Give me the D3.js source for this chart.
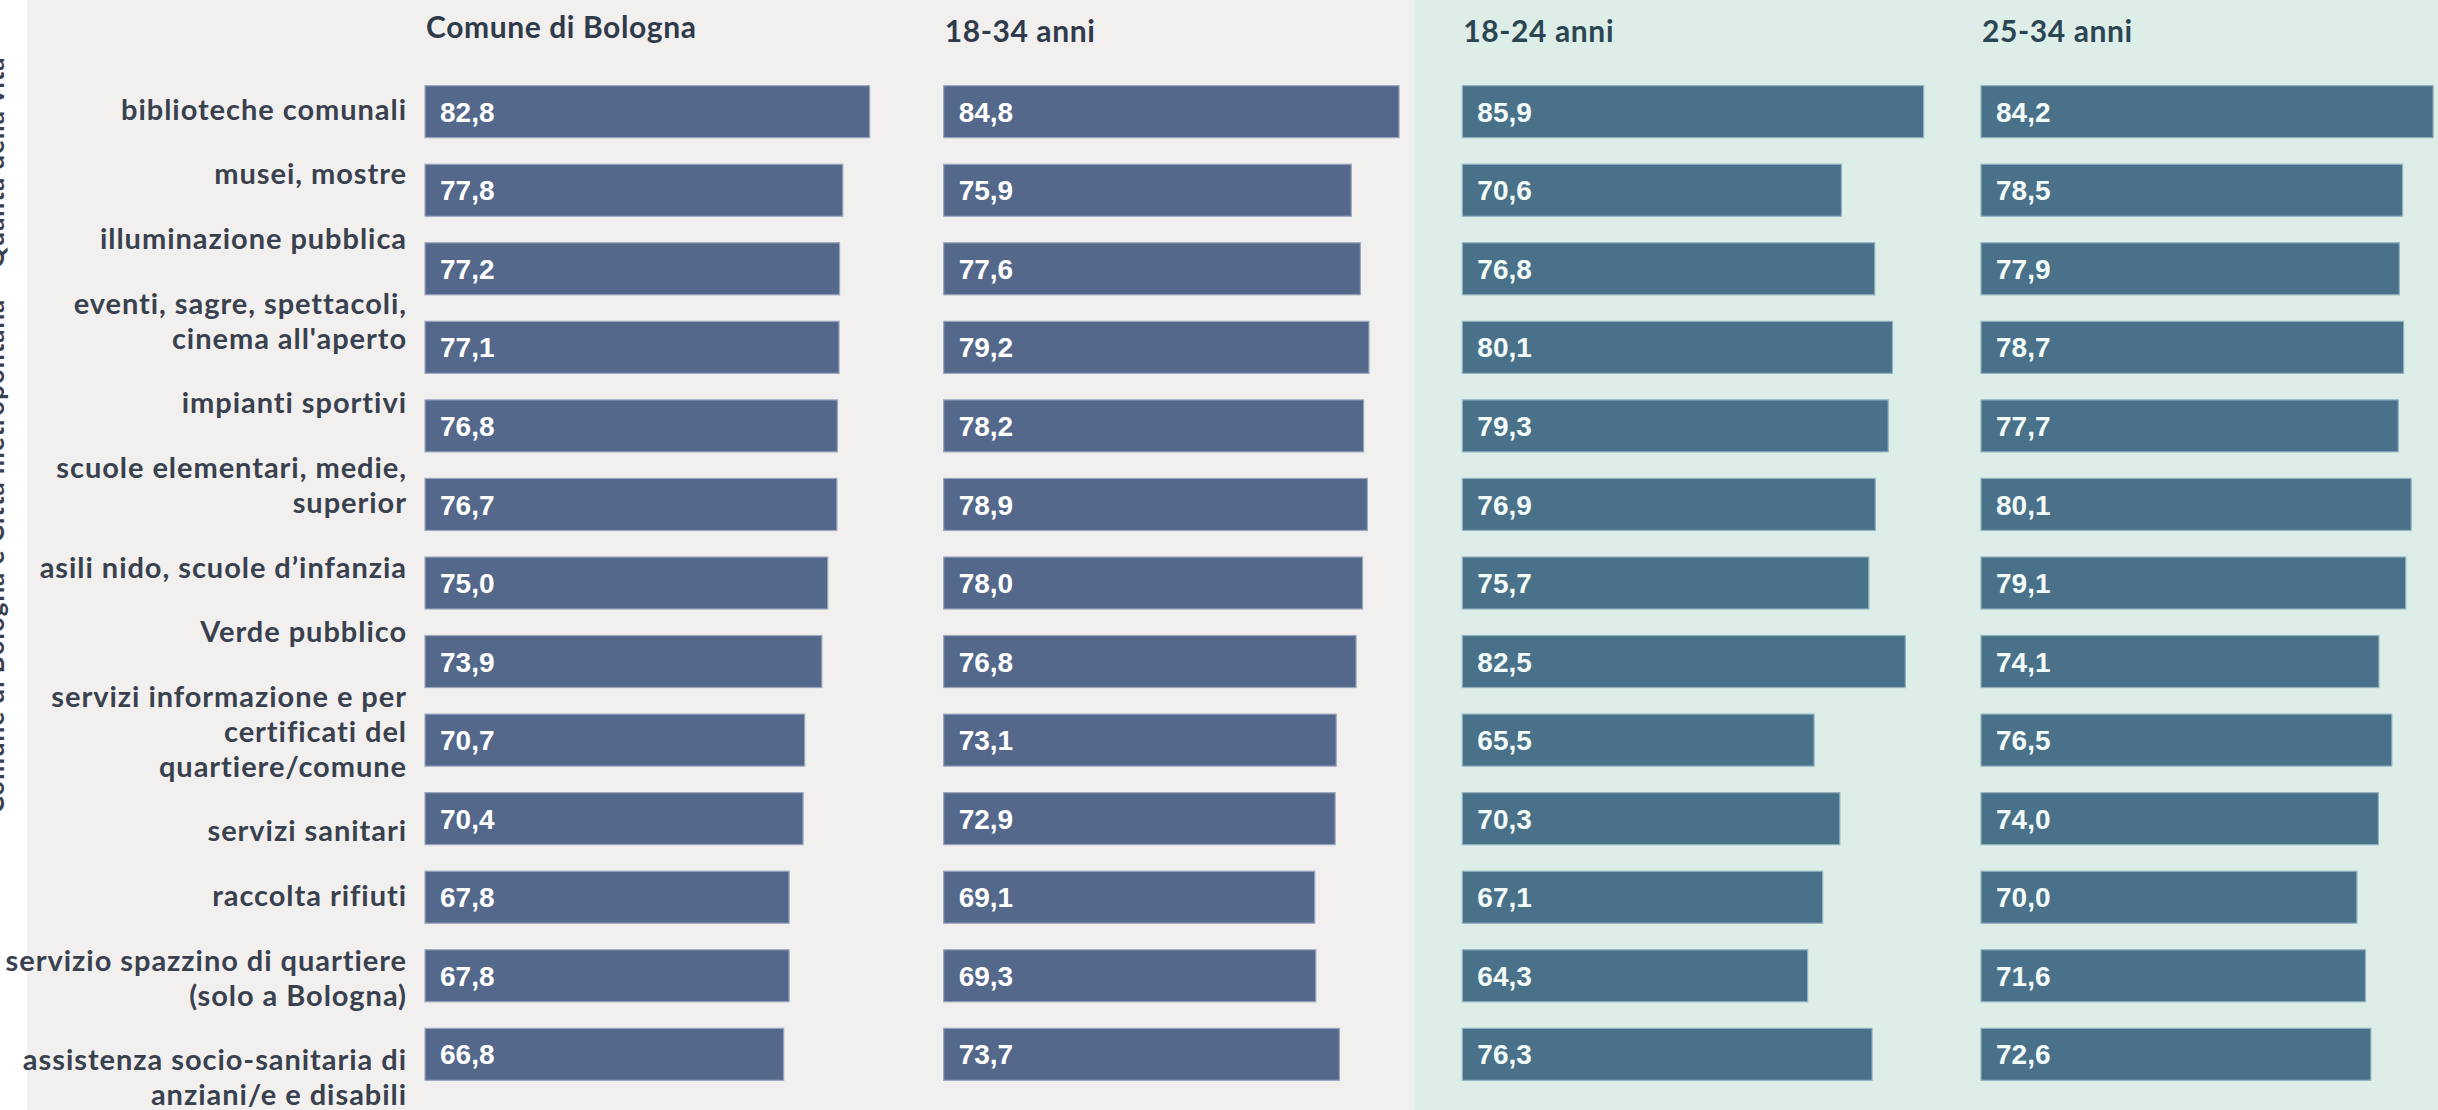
<!DOCTYPE html>
<meta charset="utf-8">
<style>
body { margin: 0; background: #fff; }
svg { display: block; }
.cat { font-family: Lato, "Open Sans", sans-serif; font-weight: 700; font-size: 29px; letter-spacing: 0.95px; fill: #39414F; }
.title { font-family: Lato, "Open Sans", sans-serif; font-weight: 700; font-size: 30px; letter-spacing: 0.6px; }
.val { font-family: "Liberation Sans", Arial, sans-serif; font-weight: 700; font-size: 28px; }
</style>
<svg width="2438" height="1110"></svg>
<script src="https://d3js.org/d3.v7.min.js"></script>
<script>

// categories, top to bottom ("\n" = line break in the label)
var categories = [
  "biblioteche comunali",
  "musei, mostre",
  "illuminazione pubblica",
  "eventi, sagre, spettacoli,\ncinema all'aperto",
  "impianti sportivi",
  "scuole elementari, medie,\nsuperior",
  "asili nido, scuole d\u2019infanzia",
  "Verde pubblico",
  "servizi informazione e per\ncertificati del\nquartiere/comune",
  "servizi sanitari",
  "raccolta rifiuti",
  "servizio spazzino di quartiere\n(solo a Bologna)",
  "assistenza socio-sanitaria di\nanziani/e e disabili"
];

var columns = ["Comune di Bologna", "18-34 anni", "18-24 anni", "25-34 anni"];

var valuesComune = [82.8, 77.8, 77.2, 77.1, 76.8, 76.7, 75.0, 73.9, 70.7, 70.4, 67.8, 67.8, 66.8];
var values1834   = [84.8, 75.9, 77.6, 79.2, 78.2, 78.9, 78.0, 76.8, 73.1, 72.9, 69.1, 69.3, 73.7];
var values1824   = [85.9, 70.6, 76.8, 80.1, 79.3, 76.9, 75.7, 82.5, 65.5, 70.3, 67.1, 64.3, 76.3];
var values2534   = [84.2, 78.5, 77.9, 78.7, 77.7, 80.1, 79.1, 74.1, 76.5, 74.0, 70.0, 71.6, 72.6];

var sideLabel = "Comune di Bologna e Citt\u00e0 metropolitana \u2013 Qualit\u00e0 della vita";

var series = [valuesComune, values1834, values1824, values2534];

// colours
var bg_left = "#F2F0EE", bg_right = "#DDEDE7";
var bar_left = "#53688A", bar_right = "#4A718A";
var edge_left = "#9AA6BF", edge_right = "#92B1C1";
var title_left = "#2F3A4A", title_right = "#2C4552";

var svg = d3.select("svg"),
    width = +svg.attr("width"),
    height = +svg.attr("height");

var y = d3.scaleBand()
    .domain(categories)
    .range([72.4, 1093.6])
    .paddingInner(0.338)
    .paddingOuter(0.169);

var x = d3.scaleLinear().domain([0, 100]).range([0, 537]);

var colX = d3.scaleLinear().domain([0, columns.length - 1]).range([425, 1981]);

var splitX = colX(2) - 48;

// backgrounds
svg.append("rect").attr("x", 0).attr("y", 0).attr("width", width).attr("height", height).style("fill", "#fff");
svg.append("rect").attr("x", 27).attr("y", 0).attr("width", splitX - 27).attr("height", height).style("fill", bg_left);
svg.append("rect").attr("x", splitX).attr("y", 0).attr("width", width - splitX).attr("height", height).style("fill", bg_right);

// rotated side label, mostly off the page like the original
svg.append("text")
   .attr("class", "cat")
   .attr("transform", "translate(4,435) rotate(-90)")
   .attr("text-anchor", "middle")
   .style("font-size", "26px")
   .text(sideLabel);

// category labels, laid out as a flowing text column
var lineH = 35;
var firstBase = y(categories[0]) + y.bandwidth() / 2 + 8;
var lastBase = y(categories[categories.length - 1]) + y.bandwidth() + 25;
var nLines = d3.sum(categories, function(c) { return c.split("\n").length; });
var gap = (lastBase - firstBase - (nLines - categories.length) * lineH) / (categories.length - 1);

var base = firstBase;
categories.forEach(function(c) {
  var lines = c.split("\n");
  var t = svg.append("text")
     .attr("class", "cat")
     .attr("text-anchor", "end")
     .attr("x", 407)
     .attr("y", base);
  lines.forEach(function(l, i) {
    t.append("tspan").attr("x", 407).attr("y", base + i * lineH).text(l);
  });
  base += (lines.length - 1) * lineH + gap;
});

// one bar column per series
columns.forEach(function(name, ci) {
  var right = ci >= 2;
  var g = svg.append("g").attr("transform", "translate(" + colX(ci) + ",0)");

  g.append("text")
   .attr("class", "title")
   .attr("x", 1)
   .attr("y", ci == 0 ? 38 : 42)
   .style("fill", right ? title_right : title_left)
   .text(name);

  var rows = categories.map(function(c, i) { return {cat: c, v: series[ci][i]}; });

  g.selectAll("rect.bar")
   .data(rows)
   .enter().append("rect")
   .attr("class", "bar")
   .attr("x", 0)
   .attr("y", function(d) { return y(d.cat); })
   .attr("width", function(d) { return x(d.v); })
   .attr("height", y.bandwidth())
   .style("fill", right ? bar_right : bar_left)
   .style("stroke", right ? edge_right : edge_left)
   .style("stroke-width", 1.2);

  g.selectAll("text.val")
   .data(rows)
   .enter().append("text")
   .attr("class", "val")
   .attr("x", 15)
   .attr("y", function(d) { return y(d.cat) + y.bandwidth() / 2; })
   .attr("dy", "0.36em")
   .style("fill", right ? "#F2FBF8" : "#fff")
   .text(function(d) { return d.v.toFixed(1).replace(".", ","); });
});

</script>
